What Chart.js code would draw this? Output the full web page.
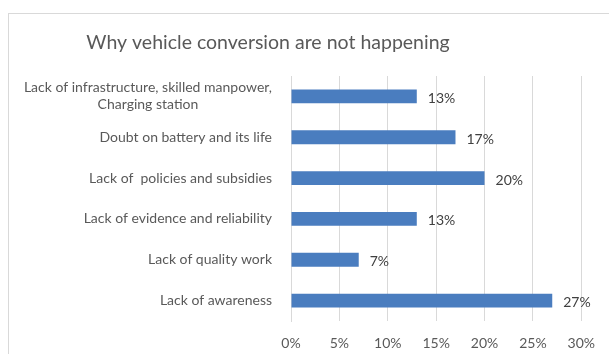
<!DOCTYPE html>
<html>
<head>
<meta charset="utf-8">
<script src="https://cdn.jsdelivr.net/npm/chart.js@4"></script>
<style>
  html, body { margin: 0; padding: 0; background: #fff; }
  #wrap { position: relative; width: 609px; height: 354px; overflow: hidden; }
  #frame { position: absolute; left: 8px; top: 13px; width: 700px; height: 400px; border: 1px solid #d9d9d9; }
  canvas { position: absolute; left: 0; top: 0; }
</style>
</head>
<body>
<div id="wrap">
  <div id="frame"></div>
  <canvas id="barChart" width="609" height="354"></canvas>
</div>
<script>
// Survey reasons, top to bottom as shown
const reasons = [
  ["Lack of infrastructure, skilled manpower,", "Charging station"],
  ["Doubt on battery and its life"],
  ["Lack of  policies and subsidies"],
  ["Lack of evidence and reliability"],
  ["Lack of quality work"],
  ["Lack of awareness"],
];
const shares = [13, 17, 20, 13, 7, 27];
const titleText = "Why vehicle conversion are not happening";

const FONT = "Lato, 'Open Sans', sans-serif";
const GREY = "#595959";

// Category labels: block right-aligned against the axis, lines centred within the block
const categoryLabels = {
  id: "categoryLabels",
  afterDraw(chart) {
    const ctx = chart.ctx;
    const y = chart.scales.y;
    const right = chart.chartArea.left - 19;
    ctx.save();
    ctx.font = "14px " + FONT;
    ctx.fillStyle = GREY;
    ctx.textAlign = "center";
    ctx.textBaseline = "middle";
    reasons.forEach((lines, i) => {
      const maxW = Math.max(...lines.map(l => ctx.measureText(l).width));
      const cx = right - maxW / 2;
      const cy = y.getPixelForTick(i);
      const lh = 17;
      lines.forEach((l, j) => {
        ctx.fillText(l, cx, cy + (j - (lines.length - 1) / 2) * lh);
      });
    });
    // chart title
    ctx.font = "19.5px " + FONT;
    ctx.fillText(titleText, 268, 43);
    ctx.restore();
  }
};

// Percentage labels at the end of each bar
const valueLabels = {
  id: "valueLabels",
  afterDatasetsDraw(chart) {
    const ctx = chart.ctx;
    const meta = chart.getDatasetMeta(0);
    ctx.save();
    ctx.font = "14px " + FONT;
    ctx.fillStyle = "#404040";
    ctx.textAlign = "left";
    ctx.textBaseline = "middle";
    meta.data.forEach((bar, i) => {
      ctx.fillText(shares[i] + "%", bar.x + 11, bar.y + 2);
    });
    ctx.restore();
  }
};

const ctx = document.getElementById("barChart").getContext("2d");
new Chart(ctx, {
  type: "bar",
  data: {
    labels: reasons,
    datasets: [
      {
        data: shares,
        backgroundColor: "#4A7DBF",
        barPercentage: 0.34,
        categoryPercentage: 1,
      },
    ],
  },
  options: {
    indexAxis: "y",
    responsive: false,
    animation: false,
    layout: { padding: { top: 76, right: 26, bottom: 5, left: 0 } },
    plugins: {
      legend: { display: false },
      title: { display: false },
      tooltip: { enabled: false },
    },
    scales: {
      x: {
        min: 0,
        max: 30,
        ticks: {
          stepSize: 5,
          padding: 14,
          color: GREY,
          font: { family: FONT, size: 14 },
          callback: v => v + "%",
        },
        grid: { color: "#d9d9d9", drawTicks: false, tickLength: 0 },
        border: { display: false },
        afterFit: s => { s.height = 28; },
      },
      y: {
        ticks: { display: false },
        grid: { display: false },
        border: { color: "#d9d9d9" },
        afterFit: s => { s.width = 291; },
      },
    },
  },
  plugins: [categoryLabels, valueLabels],
});
</script>
</body>
</html>
